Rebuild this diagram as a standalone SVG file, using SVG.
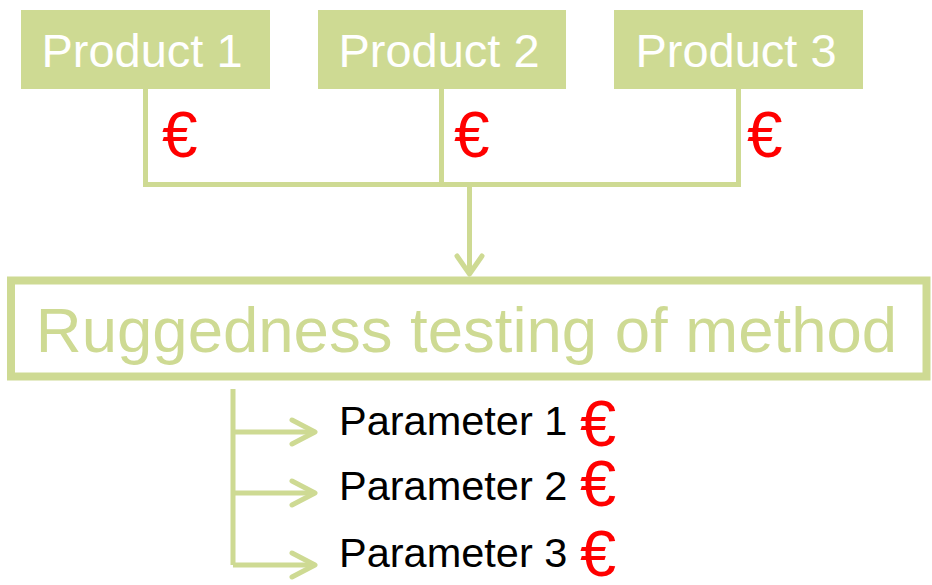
<svg xmlns="http://www.w3.org/2000/svg" width="932" height="585" viewBox="0 0 932 585">
<style>
.box{fill:#CEDA93;}
.ptxt{font-family:"Liberation Sans",Arial,sans-serif;font-size:47px;fill:#FFFFFF;text-anchor:middle;}
.line{fill:none;stroke:#CEDA93;stroke-width:5;}
.head{fill:none;stroke:#CEDA93;stroke-width:5;stroke-linecap:round;stroke-linejoin:round;}
.euro{font-family:"Liberation Sans",Arial,sans-serif;fill:#FF0000;}
.param{font-family:"Liberation Sans",Arial,sans-serif;font-size:41.5px;fill:#000000;}
</style>
<rect width="932" height="585" fill="#FFFFFF"/>
<g id="connectors">
<path class="line" d="M145.5,89 V184.5 H738.5 V89 M441.5,89 V184.5 M469.5,184.5 V274"/>
<path class="head" d="M457,256 L469.5,274 L482,256"/>
<path class="line" d="M233,389 V565 M233,432 H314 M233,493 H314 M233,565 H314"/>
<path class="head" d="M292,420 L315,432 L292,444 M292,481 L315,493 L292,505 M292,553 L315,565 L292,577"/>
</g>
<g id="product1">
<rect class="box" x="21" y="10" width="249" height="79"/>
<text class="ptxt" x="142" y="67">Product 1</text>
<text class="euro" x="162" y="157" font-size="64">€</text>
</g>
<g id="product2">
<rect class="box" x="318" y="10" width="248" height="79"/>
<text class="ptxt" x="439" y="67">Product 2</text>
<text class="euro" x="454" y="157" font-size="64">€</text>
</g>
<g id="product3">
<rect class="box" x="614" y="10" width="249" height="79"/>
<text class="ptxt" x="736" y="67">Product 3</text>
<text class="euro" x="747" y="157" font-size="64">€</text>
</g>
<g id="ruggedness">
<rect x="11" y="280.5" width="915.5" height="96" fill="#FFFFFF" stroke="#CEDA93" stroke-width="8"/>
<text x="466.5" y="352" font-family="'Liberation Sans',Arial,sans-serif" font-size="63.5" fill="#CEDA93" text-anchor="middle">Ruggedness testing of method</text>
</g>
<g id="parameter1">
<text class="param" x="339" y="435">Parameter 1</text>
<text class="euro" x="580" y="446" font-size="65">€</text>
</g>
<g id="parameter2">
<text class="param" x="339" y="500">Parameter 2</text>
<text class="euro" x="580" y="506" font-size="65">€</text>
</g>
<g id="parameter3">
<text class="param" x="339" y="567">Parameter 3</text>
<text class="euro" x="580" y="576" font-size="65">€</text>
</g>
</svg>
